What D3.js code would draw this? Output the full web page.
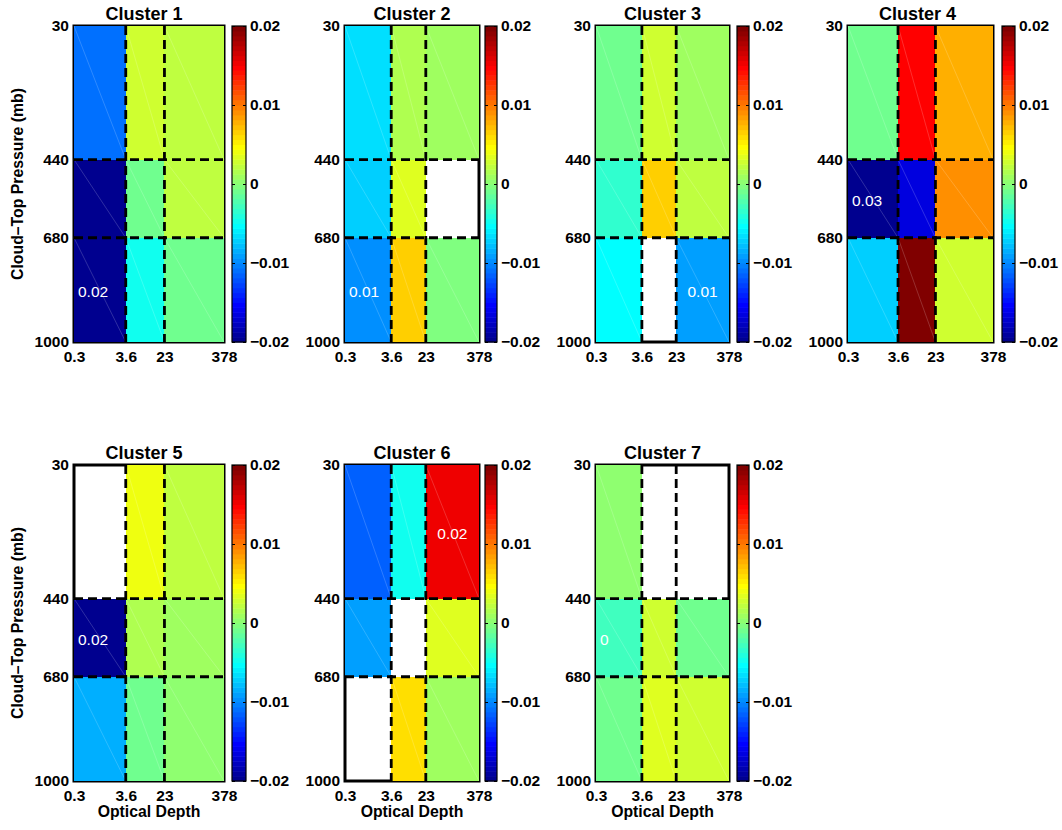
<!DOCTYPE html>
<html>
<head>
<meta charset="utf-8">
<script src="https://cdn.jsdelivr.net/npm/d3@7.9.0/dist/d3.min.js"></script>
<style>
  body { margin: 0; background: #fff; }
  svg { font-family: "Liberation Sans", Arial, Helvetica, sans-serif; }
</style>
</head>
<body>
<div id="chart"></div>
<script>
// data
const clusterNames = ["Cluster 1", "Cluster 2", "Cluster 3", "Cluster 4", "Cluster 5", "Cluster 6", "Cluster 7"];
const tauEdges = [0.3, 3.6, 23, 378];
const pressureEdges = [30, 440, 680, 1000];
const colorTicks = [-0.02, -0.01, 0, 0.01, 0.02];

// rows: 30-440, 440-680, 680-1000 ; cols: 0.3-3.6, 3.6-23, 23-378 (null = no data)
const cluster1 = [[-0.011, 0.003, 0.002], [-0.021, -0.001, 0.002], [-0.021, -0.005, -0.0008]];
const cluster2 = [[-0.0065, 0.0013, 0.001], [-0.007, 0.0033, null], [-0.0094, 0.0068, -0.0004]];
const cluster3 = [[-0.001, 0.0025, 0.001], [-0.0035, 0.0063, 0.002], [-0.0056, null, -0.0088]];
const cluster4 = [[-0.001, 0.0144, 0.008], [-0.021, -0.0168, 0.009], [-0.007, 0.021, 0.0025]];
const cluster5 = [[null, 0.0042, 0.002], [-0.021, 0.0013, 0.0007], [-0.0084, -0.0008, 0]];
const cluster6 = [[-0.0116, -0.005, 0.0155], [-0.0088, null, 0.0033], [null, 0.0058, 0.001]];
const cluster7 = [[0, null, null], [-0.003, 0.0025, -0.001], [-0.0008, 0.0033, 0.0029]];
const clusterValues = [cluster1, cluster2, cluster3, cluster4, cluster5, cluster6, cluster7];

// [row, col, text] note per cluster
const cellNotes = [[2, 0, "0.02"], [2, 0, "0.01"], [2, 2, "0.01"], [1, 0, "0.03"], [1, 0, "0.02"], [0, 2, "0.02"], [1, 0, "0"]];

// layout
const width = 1062, height = 830;
const colLeft = [74, 345, 596, 848];
const colWidth = [150, 134, 133, 145];
const cbLeft = [232, 485, 737, 1002];
const cbWidth = [14, 12, 12, 13];
const titleShift = [-5, 0, 0, -3];
const rowTop = [26, 465];
const plotH = 316;
const tauPos = [0, 0.345, 0.603, 1];

// matlab jet(64)
function jet(m) {
  const n = Math.ceil(m / 4);
  const u = [];
  for (let i = 1; i <= n; i++) u.push(i / n);
  for (let i = 1; i < n; i++) u.push(1);
  for (let i = n; i >= 1; i--) u.push(i / n);
  const g0 = Math.ceil(n / 2) - (m % 4 === 1 ? 1 : 0);
  const J = Array.from({ length: m }, () => [0, 0, 0]);
  u.forEach((val, k) => {
    const g = g0 + k + 1, r = g + n, b = g - n;
    if (r >= 1 && r <= m) J[r - 1][0] = val;
    if (g >= 1 && g <= m) J[g - 1][1] = val;
    if (b >= 1 && b <= m) J[b - 1][2] = val;
  });
  return J.map(c => d3.rgb(c[0] * 255, c[1] * 255, c[2] * 255).formatHex());
}
const jet64 = jet(64);
const color = d3.scaleQuantize().domain([-0.02, 0.02]).range(jet64);

const svg = d3.select("#chart").append("svg")
  .attr("width", width)
  .attr("height", height);

clusterNames.forEach((name, ci) => {
  const row = ci < 4 ? 0 : 1;
  const col = ci < 4 ? ci : ci - 4;
  const x0 = colLeft[col], w = colWidth[col];
  const top = rowTop[row];

  const x = d3.scaleLinear().domain(tauEdges).range(tauPos.map(p => x0 + p * w));
  const y = d3.scaleLinear().domain([pressureEdges[0], pressureEdges[3]]).range([top, top + plotH]);

  const g = svg.append("g");

  // axes box (drawn under the cells)
  g.append("rect")
    .attr("x", x(tauEdges[0])).attr("y", y(pressureEdges[0]))
    .attr("width", w).attr("height", plotH)
    .attr("fill", "none").attr("stroke", "#000").attr("stroke-width", 3);

  const cells = [];
  clusterValues[ci].forEach((r, ri) => r.forEach((v, cj) => {
    cells.push({ v, x1: x(tauEdges[cj]), x2: x(tauEdges[cj + 1]), y1: y(pressureEdges[ri]), y2: y(pressureEdges[ri + 1]) });
  }));
  const filled = cells.filter(d => d.v !== null);

  g.selectAll("rect.cell").data(filled).join("rect")
    .attr("class", "cell")
    .attr("x", d => d.x1).attr("y", d => d.y1)
    .attr("width", d => d.x2 - d.x1).attr("height", d => d.y2 - d.y1)
    .attr("fill", d => color(d.v))
    .attr("shape-rendering", "crispEdges");

  // faint triangle seams
  g.selectAll("line.seam").data(filled).join("line")
    .attr("class", "seam")
    .attr("x1", d => d.x1).attr("y1", d => d.y1)
    .attr("x2", d => d.x2).attr("y2", d => d.y2)
    .attr("stroke", "#fff").attr("stroke-opacity", 0.3).attr("stroke-width", 0.6);

  // dashed grid
  g.selectAll("line.vdash").data(tauEdges.slice(1, 3)).join("line")
    .attr("x1", d => x(d)).attr("x2", d => x(d))
    .attr("y1", top).attr("y2", top + plotH)
    .attr("stroke", "#000").attr("stroke-width", 2.8).attr("stroke-dasharray", "9,5");
  g.selectAll("line.hdash").data(pressureEdges.slice(1, 3)).join("line")
    .attr("x1", x0).attr("x2", x0 + w)
    .attr("y1", d => y(d)).attr("y2", d => y(d))
    .attr("stroke", "#000").attr("stroke-width", 2.8).attr("stroke-dasharray", "9,5");

  // note text
  const [nr, nc, nt] = cellNotes[ci];
  const nx = nc === 0 ? x(tauEdges[0]) + 4 : (x(tauEdges[nc]) + x(tauEdges[nc + 1])) / 2;
  g.append("text")
    .attr("x", nx)
    .attr("y", (y(pressureEdges[nr]) + y(pressureEdges[nr + 1])) / 2)
    .attr("dy", "0.45em")
    .attr("text-anchor", nc === 0 ? "start" : "middle")
    .attr("fill", "#fff")
    .style("font-size", "15.5px")
    .text(nt);

  // axes
  const yAxis = g.append("g")
    .attr("transform", `translate(${x0},0)`)
    .call(d3.axisLeft(y).tickValues(pressureEdges).tickSize(0).tickPadding(5).tickFormat(d3.format("d")));
  yAxis.select(".domain").remove();
  yAxis.selectAll("text").style("font-size", "15.5px").style("font-weight", "bold").attr("fill", "#000");

  const xAxis = g.append("g")
    .attr("transform", `translate(0,${top + plotH})`)
    .call(d3.axisBottom(x).tickValues(tauEdges).tickSize(0).tickPadding(9).tickFormat(d => d));
  xAxis.select(".domain").remove();
  xAxis.selectAll("text").style("font-size", "15.5px").style("font-weight", "bold").attr("fill", "#000");

  // title
  g.append("text")
    .attr("x", x0 + w / 2 + titleShift[col])
    .attr("y", top - 6)
    .attr("text-anchor", "middle")
    .style("font-size", "18px").style("font-weight", "bold")
    .text(name);

  if (col === 0) {
    g.append("text")
      .attr("transform", `translate(23,${top + plotH / 2}) rotate(-90)`)
      .attr("text-anchor", "middle")
      .style("font-size", "15.8px").style("font-weight", "bold")
      .text("Cloud\u2013Top Pressure (mb)");
  }
  if (row === 1) {
    g.append("text")
      .attr("x", x0 + w / 2)
      .attr("y", top + plotH + 36)
      .attr("text-anchor", "middle")
      .style("font-size", "15.8px").style("font-weight", "bold")
      .text("Optical Depth");
  }

  // colorbar
  const cx = cbLeft[col], cw = cbWidth[col];
  const cy = d3.scaleLinear().domain([-0.02, 0.02]).range([top + plotH, top]);
  const step = 0.04 / jet64.length;
  g.selectAll("rect.cb").data(jet64).join("rect")
    .attr("class", "cb")
    .attr("x", cx).attr("width", cw)
    .attr("y", (d, i) => cy(-0.02 + (i + 1) * step))
    .attr("height", (d, i) => cy(-0.02 + i * step) - cy(-0.02 + (i + 1) * step) + 0.5)
    .attr("fill", d => d);
  g.append("rect")
    .attr("x", cx).attr("y", top).attr("width", cw).attr("height", plotH)
    .attr("fill", "none").attr("stroke", "#000").attr("stroke-width", 1.2);

  const cbRight = g.append("g")
    .attr("transform", `translate(${cx + cw},0)`)
    .call(d3.axisRight(cy).tickValues(colorTicks).tickSize(-3).tickPadding(4)
      .tickFormat(d => d === 0 ? "0" : d3.format(".2f")(d)));
  cbRight.select(".domain").remove();
  cbRight.selectAll("line").attr("stroke", "#000");
  cbRight.selectAll("text").style("font-size", "15.5px").style("font-weight", "bold").attr("fill", "#000");

  const cbLeftAx = g.append("g")
    .attr("transform", `translate(${cx},0)`)
    .call(d3.axisRight(cy).tickValues(colorTicks).tickSize(3).tickFormat(""));
  cbLeftAx.select(".domain").remove();
  cbLeftAx.selectAll("line").attr("stroke", "#000");
});
</script>
</body>
</html>
